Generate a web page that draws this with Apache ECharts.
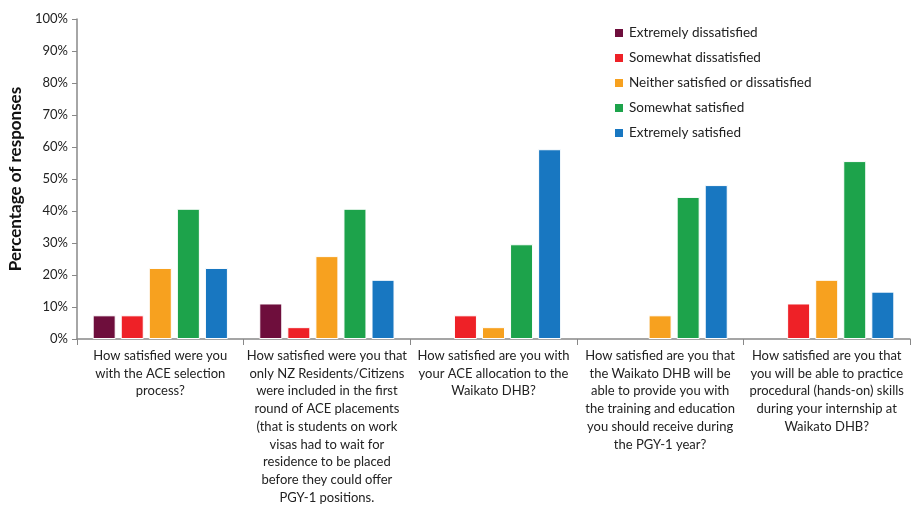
<!DOCTYPE html>
<html><head><meta charset="utf-8">
<script src="https://cdn.jsdelivr.net/npm/echarts@6/dist/echarts.min.js"></script>
<style>html,body{margin:0;padding:0;background:#fff}#c{width:911px;height:505px}</style>
</head><body><div id="c"></div>
<script>
const categories = [
  "How satisfied were you\nwith the ACE selection\nprocess?",
  "How satisfied were you that\nonly NZ Residents/Citizens\nwere included in the first\nround of ACE placements\n(that is students on work\nvisas had to wait for\nresidence to be placed\nbefore they could offer\nPGY-1 positions.",
  "How satisfied are you with\nyour ACE allocation to the\nWaikato DHB?",
  "How satisfied are you that\nthe Waikato DHB will be\nable to provide you with\nthe training and education\nyou should receive during\nthe PGY-1 year?",
  "How satisfied are you that\nyou will be able to practice\nprocedural (hands-on) skills\nduring your internship at\nWaikato DHB?"
];
const seriesNames = ["Extremely dissatisfied","Somewhat dissatisfied","Neither satisfied or dissatisfied","Somewhat satisfied","Extremely satisfied"];
const extremelyDissatisfied = [7.4, 11.1, 0, 0, 0];
const somewhatDissatisfied = [7.4, 3.7, 7.4, 0, 11.1];
const neither = [22.2, 25.9, 3.7, 7.4, 18.5];
const somewhatSatisfied = [40.7, 40.7, 29.6, 44.4, 55.6];
const extremelySatisfied = [22.2, 18.5, 59.3, 48.1, 14.8];
const yTicks = [0,10,20,30,40,50,60,70,80,90,100];
const colors = ["#6E0E3C","#EE2127","#F7A11F","#1DA34B","#1877C1"];
const values = [extremelyDissatisfied, somewhatDissatisfied, neither, somewhatSatisfied, extremelySatisfied];
const font = "Lato, 'Open Sans', sans-serif";
const chart = echarts.init(document.getElementById('c'), null, {renderer:'canvas'});
chart.setOption({
  animation:false,
  textStyle:{fontFamily:font},
  grid:{left:77,right:1,top:19,bottom:166,containLabel:false,outerBoundsMode:'none'},
  legend:{
    orient:'vertical', left:608, top:21, itemWidth:10, itemHeight:10, itemGap:11,
    icon:'rect',
    textStyle:{fontFamily:font,fontSize:13.5,color:'#222'},
    data:seriesNames
  },
  xAxis:{
    type:'category', data:categories,
    axisLine:{lineStyle:{color:'#888',width:1.5}},
    axisTick:{show:true,length:6,lineStyle:{color:'#888'}},
    axisLabel:{interval:0,color:'#222',fontSize:13,fontFamily:font,lineHeight:17.7,margin:8,align:'center'}
  },
  yAxis:{
    type:'value', min:0, max:100, interval:10,
    name:'Percentage of responses', nameLocation:'middle', nameGap:53, nameRotate:90,
    nameTextStyle:{fontFamily:font,fontSize:17,fontWeight:'bold',color:'#111'},
    axisLine:{show:true,lineStyle:{color:'#888',width:1.5}},
    axisTick:{show:true,length:5,inside:false,lineStyle:{color:'#888'}},
    splitLine:{show:false},
    axisLabel:{formatter:v=>yTicks.includes(v)?v+'%':'',color:'#222',fontSize:13,fontFamily:font,margin:9}
  },
  series: seriesNames.map((n,i)=>({
    name:n, type:'bar', data:values[i].map(v=>v===0?null:v),
    barWidth:23, barGap:'22%', barCategoryGap:'20%',
    itemStyle:{color:colors[i],borderColor:'#fff',borderWidth:1}
  }))
});
</script></body></html>
